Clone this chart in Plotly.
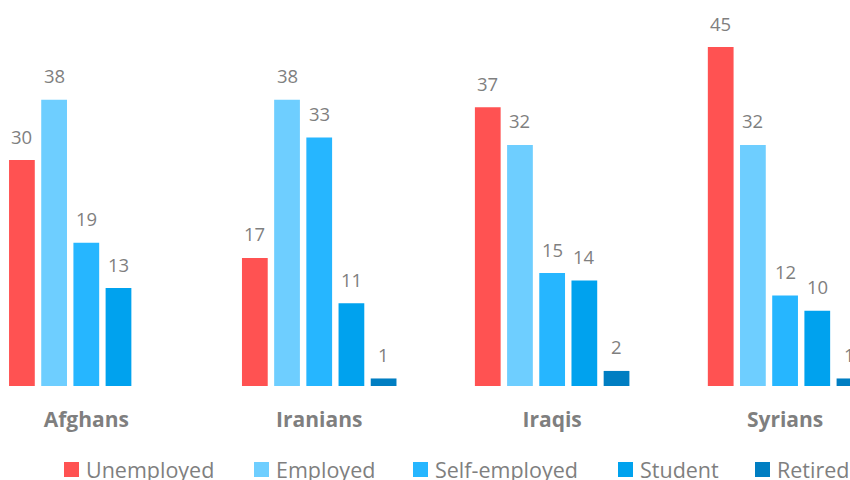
import plotly.graph_objects as go

# Employment status by nationality (%)
groups = ["Afghans", "Iranians", "Iraqis", "Syrians"]
statuses = ["Unemployed", "Employed", "Self-employed", "Student", "Retired"]
unemployed = [30, 17, 37, 45]
employed = [38, 38, 32, 32]
self_employed = [19, 33, 15, 12]
student = [13, 11, 14, 10]
retired = [None, 1, 2, 1]

series = [unemployed, employed, self_employed, student, retired]
colors = ["#FF5252", "#6ECEFF", "#26B6FF", "#00A2EE", "#007EC2"]

GRAY = "#7F7F7F"
FONT = "Open Sans"
BARGAP = 0.309
GROUPGAP = 0.2

fig = go.Figure()
for name, vals, col in zip(statuses, series, colors):
    fig.add_trace(go.Bar(
        name=name, x=groups, y=vals,
        marker=dict(color=col, line=dict(width=0)),
        showlegend=False,
    ))

# value labels above each bar
slot = (1 - BARGAP) / len(statuses)
for j, vals in enumerate(series):
    for i, v in enumerate(vals):
        if v is None:
            continue
        fig.add_annotation(
            x=i + (j - (len(statuses) - 1) / 2) * slot, y=v,
            xref="x", yref="y", text=str(v), showarrow=False,
            yanchor="middle", yshift=24,
            font=dict(family=FONT, size=18.5, color=GRAY),
        )

# legend row along the bottom
legend_x = [64, 254, 413, 618, 755]
for name, col, px in zip(statuses, colors, legend_x):
    fig.add_shape(
        type="rect", xref="paper", yref="paper",
        x0=px / 850, x1=(px + 15) / 850,
        y0=(386 - 477) / 386, y1=(386 - 462) / 386,
        fillcolor=col, line=dict(width=0),
    )
    fig.add_annotation(
        x=(px + 20) / 850, y=(386 - 470) / 386, xref="paper", yref="paper",
        text=name, showarrow=False, xanchor="left", yanchor="middle",
        font=dict(family=FONT, size=21.5, color=GRAY),
    )

fig.update_layout(
    width=850, height=480,
    margin=dict(l=0, r=0, t=0, b=94),
    paper_bgcolor="white", plot_bgcolor="white",
    barmode="group", bargap=BARGAP, bargroupgap=GROUPGAP,
    font=dict(family=FONT, color=GRAY),
    xaxis=dict(
        range=[-0.3705, 3.2787], showgrid=False, zeroline=False,
        showline=False, ticks="", ticklabelstandoff=19,
        tickfont=dict(family=FONT, size=21, color=GRAY, weight="bold"),
    ),
    yaxis=dict(range=[0, 51.24], visible=False),
)

fig.write_html("out.html")
